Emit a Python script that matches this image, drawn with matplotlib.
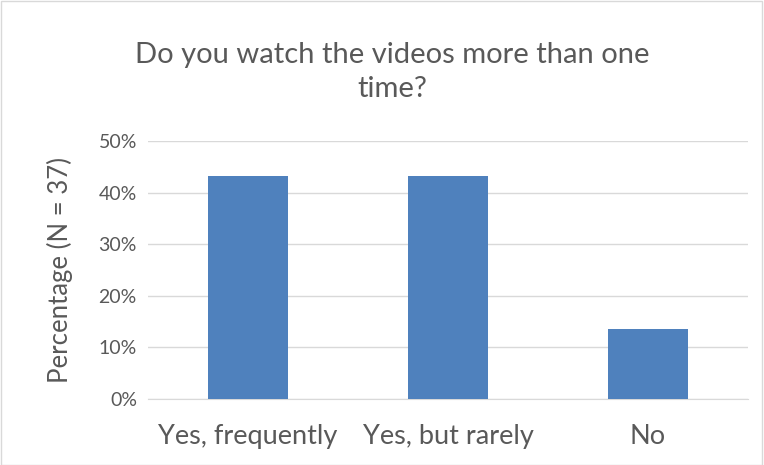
import matplotlib
matplotlib.use('Agg')
import matplotlib.pyplot as plt
from matplotlib.ticker import PercentFormatter
from matplotlib.patches import Rectangle

categories = ['Yes, frequently', 'Yes, but rarely', 'No']
percent = [43.2, 43.2, 13.5]
y_ticks = [0, 10, 20, 30, 40, 50]

plt.rcParams['font.family'] = ['Lato', 'DejaVu Sans']
text_col = '#595959'

fig = plt.figure(figsize=(7.64, 4.65), dpi=100)
ax = fig.add_axes([148/764, 1 - 399/465, 600/764, 258/465])

ax.bar(range(len(categories)), percent, width=0.4, color='#4F81BD', zorder=3)
ax.set_xlim(-0.5, len(categories) - 0.5)
ax.set_ylim(0, 50)
ax.set_yticks(y_ticks)
ax.yaxis.set_major_formatter(PercentFormatter(decimals=0))
ax.set_xticks(range(len(categories)))
ax.set_xticklabels(categories)
ax.grid(axis='y', color='#D9D9D9', linewidth=1, zorder=0)
for s in ['top', 'right', 'left']:
    ax.spines[s].set_visible(False)
ax.spines['bottom'].set_color('#D9D9D9')
ax.tick_params(axis='both', length=0, colors=text_col, labelsize=14)
ax.tick_params(axis='x', pad=18, labelsize=19.5)
ax.tick_params(axis='y', pad=8)
ax.set_ylabel('Percentage (N = 37)', color=text_col, fontsize=18.5)
ax.yaxis.set_label_coords((73 - 148) / 600, 0.5)

fig.text(392/764, 1 - 72/465, 'Do you watch the videos more than one\ntime?',
         ha='center', va='center', fontsize=21, color=text_col, linespacing=1.4)

fig.patches.append(Rectangle((0.001, 0.001), 0.997, 0.997, transform=fig.transFigure,
                             fill=False, edgecolor='#D9D9D9', linewidth=1))

fig.savefig('out.png', dpi=100)
